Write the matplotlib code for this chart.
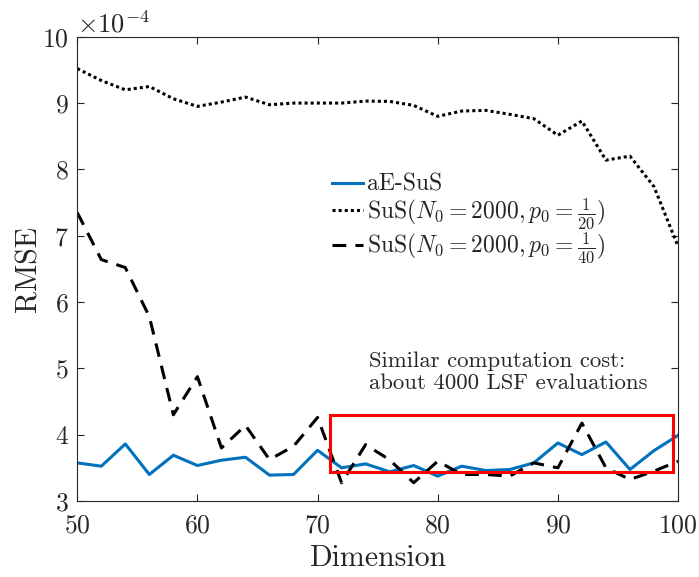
import matplotlib
matplotlib.use("Agg")
import matplotlib.pyplot as plt
from matplotlib.patches import Rectangle
from matplotlib.ticker import ScalarFormatter

plt.rcParams['font.family'] = 'serif'
plt.rcParams['font.serif'] = ['cmr10']
plt.rcParams['mathtext.fontset'] = 'cm'
plt.rcParams['axes.unicode_minus'] = False
plt.rcParams['axes.formatter.use_mathtext'] = True

dims = list(range(50, 101, 2))

# RMSE values (x1e-4)
aesus = [3.575, 3.525, 3.86, 3.40, 3.69, 3.535, 3.615, 3.66, 3.39, 3.40,
         3.765, 3.50, 3.56, 3.44, 3.535, 3.375, 3.525, 3.46, 3.475, 3.575,
         3.875, 3.70, 3.89, 3.475, 3.76, 3.99]
sus_20 = [9.52, 9.34, 9.20, 9.25, 9.065, 8.95, 9.015, 9.09, 8.975, 9.0,
          9.0, 9.0, 9.03, 9.025, 8.965, 8.80, 8.88, 8.89, 8.83, 8.765,
          8.515, 8.73, 8.14, 8.20, 7.74, 6.84]
sus_40 = [7.35, 6.64, 6.52, 5.78, 4.30, 4.875, 3.80, 4.14, 3.625, 3.825,
          4.26, 3.275, 3.85, 3.62, 3.275, 3.60, 3.40, 3.40, 3.375, 3.575,
          3.50, 4.175, 3.50, 3.325, 3.45, 3.60]

labels = ['aE-SuS',
          r'SuS$(N_0=2000,p_0=\frac{1}{20})$',
          r'SuS$(N_0=2000,p_0=\frac{1}{40})$']

scale = 1e-4
dark = '#262626'

fig = plt.figure(figsize=(6.99, 5.77), dpi=100)
ax = fig.add_axes([0.1105, 0.1317, 0.8595, 0.8046])

ax.plot(dims, [v * scale for v in aesus], color='#0072BD', lw=2.2, label=labels[0])
ax.plot(dims, [v * scale for v in sus_20], color='black', lw=2.2, ls=(0, (1, 1)), label=labels[1])
ax.plot(dims, [v * scale for v in sus_40], color='black', lw=2.2, ls=(0, (4.5, 3)), label=labels[2])

# highlight box
ax.add_patch(Rectangle((71, 3.44 * scale), 28.6, 0.85 * scale, fill=False,
                       edgecolor='red', lw=2.2, zorder=5))
ax.text(74.3, 5.25 * scale, 'Similar computation cost:\nabout 4000 LSF evaluations',
        fontsize=16.4, color=dark, va='top', ha='left', linespacing=1.15)

ax.set_xlim(50, 100)
ax.set_ylim(3e-4, 10e-4)
ax.set_xticks(range(50, 101, 10))
ax.set_yticks([v * scale for v in range(3, 11)])
fmt = ScalarFormatter(useMathText=True)
fmt.set_powerlimits((-4, -4))
ax.yaxis.set_major_formatter(fmt)
ax.yaxis.get_offset_text().set_fontsize(19)
ax.yaxis.get_offset_text().set_color(dark)

ax.tick_params(direction='in', top=True, right=True, labelsize=18.5,
               colors=dark, length=5, width=0.8)
ax.tick_params(axis='x', pad=9)
ax.tick_params(axis='y', pad=6)
for s in ax.spines.values():
    s.set_color(dark)
    s.set_linewidth(0.8)

ax.set_xlabel('Dimension', fontsize=21.5, color=dark, labelpad=5)
ax.set_ylabel('RMSE', fontsize=21.5, color=dark, labelpad=0)

leg = ax.legend(loc='upper left', bbox_to_anchor=(0.408, 0.725), frameon=False,
                fontsize=17, handlelength=1.3, handletextpad=0.2,
                labelspacing=0.0, borderaxespad=0)
for t in leg.get_texts():
    t.set_color(dark)

fig.savefig('out.png', dpi=100)
